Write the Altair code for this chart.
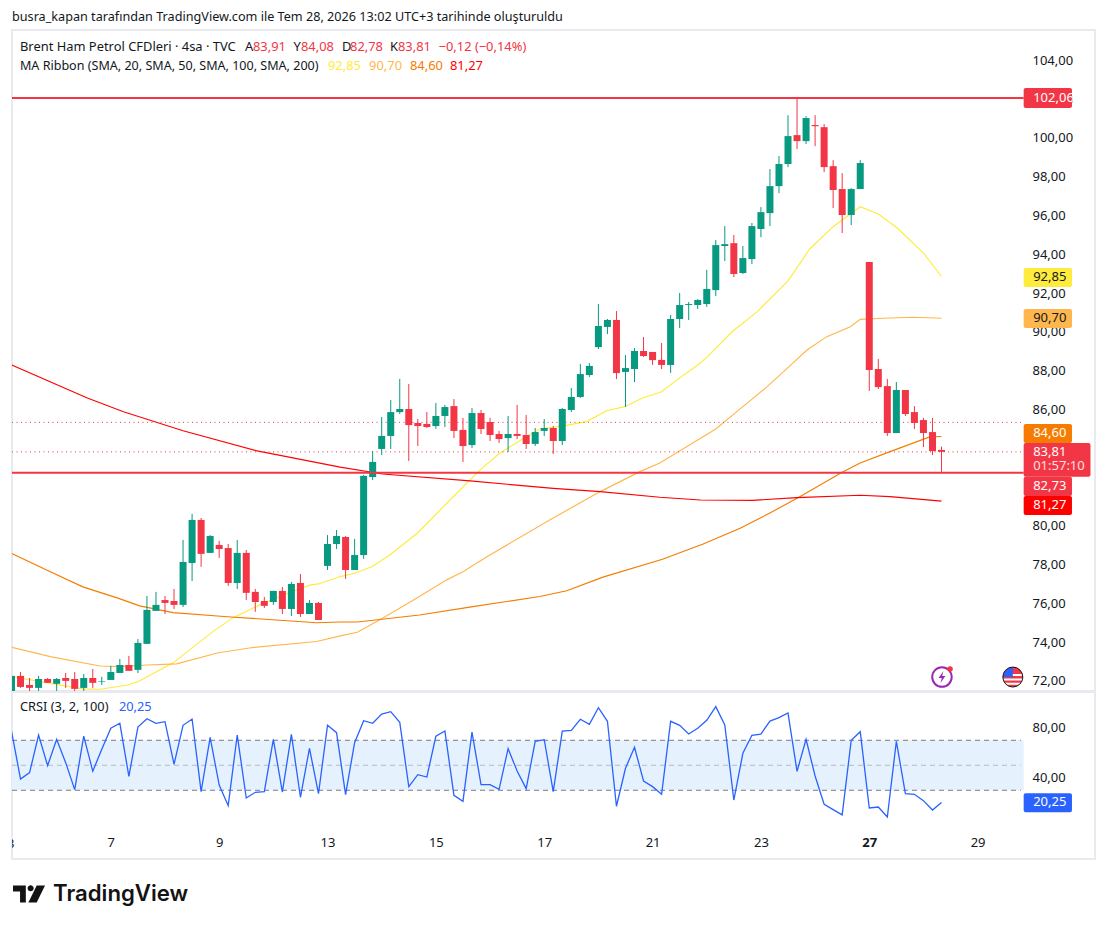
import altair as alt
import pandas as pd

FONT = "Noto Sans"
GREEN, RED = "#089981", "#f23645"
INK = "#131722"

opens = [71.40,72.26,71.79,71.64,72.10,71.85,72.15,72.10,71.64,72.15,71.95,72.05,72.41,72.82,72.57,73.91,75.61,76.17,76.12,75.92,
 78.08,80.30,78.60,79.01,78.85,77.05,78.60,76.59,76.12,76.07,76.64,75.71,77.05,75.45,76.02,77.93,79.06,79.42,77.72,78.49,
 82.51,83.96,84.63,85.86,86.02,85.30,85.25,85.14,85.66,86.17,84.94,84.16,85.81,85.35,84.73,84.52,84.73,84.68,84.22,84.89,
 85.04,84.37,85.97,86.64,87.77,89.21,90.25,90.61,87.93,88.08,89.01,88.96,88.55,88.29,90.66,91.38,91.38,91.43,92.15,94.42,
 94.57,93.03,93.75,95.30,96.12,97.51,98.65,100.14,99.83,100.66,100.55,98.54,97.36,96.02,97.36,93.60,88.08,87.20,84.78,87.00,
 85.86,85.45,84.83,83.91]
closes = [72.26,71.69,71.64,72.10,71.90,72.10,72.00,71.59,72.15,71.90,71.98,72.46,72.82,72.52,73.96,75.66,75.92,76.02,75.92,78.13,
 80.30,78.55,79.47,78.80,77.05,78.60,76.54,76.07,75.87,76.64,75.71,77.00,75.45,76.02,75.14,79.06,79.47,77.72,78.49,82.57,
 83.29,84.63,85.86,86.02,85.19,85.14,85.09,85.66,86.12,84.89,84.11,85.81,84.99,84.68,84.47,84.73,84.63,84.22,84.83,85.04,
 84.37,86.02,86.64,87.82,88.24,90.30,90.61,87.87,88.13,89.01,88.75,88.54,88.29,90.66,91.38,91.43,91.64,92.21,94.47,94.52,
 92.98,93.80,95.45,96.17,97.51,98.65,100.09,99.83,101.02,100.60,98.49,97.31,96.02,97.36,98.70,88.03,87.15,84.78,87.00,85.76,
 85.30,84.78,83.85,83.81]
highs = [72.36,72.46,72.15,72.26,72.15,72.15,72.41,72.46,72.36,72.62,72.21,72.77,73.13,73.29,74.16,76.38,76.59,76.38,76.74,79.27,
 80.61,80.40,79.52,79.22,79.06,79.27,78.75,76.74,76.33,76.64,76.84,77.10,77.51,76.17,76.07,79.52,79.78,79.47,79.32,82.62,
 83.85,85.61,86.48,87.57,87.31,85.50,85.86,86.33,86.23,86.53,85.56,86.07,85.97,85.56,84.89,85.66,86.23,85.71,85.04,85.50,
 85.14,86.07,87.10,88.34,88.39,91.43,90.66,91.07,88.80,89.16,89.73,88.96,89.42,90.87,92.00,91.54,91.69,93.19,94.73,95.45,
 94.99,94.42,95.61,96.43,98.39,99.06,101.17,102.05,101.12,101.17,100.71,98.85,98.18,97.41,98.85,93.60,88.60,87.57,87.41,87.00,
 86.17,85.56,85.56,84.08]
lows = [71.28,71.64,71.48,71.48,71.90,71.48,71.64,71.48,71.48,71.64,71.79,72.05,72.41,72.52,72.41,73.91,75.61,75.45,75.71,75.81,
 77.15,77.88,78.60,78.34,76.90,76.74,76.17,75.56,75.76,75.92,75.45,75.35,75.30,75.45,75.14,77.72,78.80,77.26,77.72,78.29,
 82.36,83.65,83.96,85.76,83.34,84.11,85.04,84.99,85.09,84.52,83.29,84.01,84.73,84.37,84.27,83.80,84.47,83.96,84.11,84.63,
 83.70,84.16,85.86,86.59,87.67,89.11,89.88,87.56,86.12,87.41,88.70,88.29,88.08,87.88,90.20,90.61,91.18,91.28,91.84,93.65,
 92.82,92.98,93.49,94.88,95.45,97.15,98.49,99.42,99.68,99.57,98.23,96.38,95.09,95.50,97.36,86.95,87.05,84.63,84.78,85.66,
 84.99,84.06,83.65,82.78]

sma20_i = [0.2,7.9,9.8,12.9,14,17.9,22.3,24.5,27.5,30.1,33.1,34,36.4,38,39.9,41.9,45,48.2,51.9,54.1,56.6,58.5,61.3,63.7,65.9,67.9,69.9,72,73.7,76,77.1,79.8,82.6,86,88.4,91,94,96,98.1,101,103]
sma20_v = [72.21,71.59,71.57,71.79,71.96,72.93,74.54,75.25,75.92,76.43,76.95,77.0,77.38,77.55,77.89,78.49,79.64,81.16,82.88,83.75,84.47,84.99,85.16,85.37,85.93,86.14,86.59,86.91,87.52,88.29,88.72,90.0,91.04,92.63,94.27,95.42,96.45,96.07,95.35,94.06,92.85]
sma50_i = [0,4.3,9.8,12,15,18.3,22.8,26.7,33.8,36.4,38.3,41,44.9,48.2,50,52.7,59.6,65.2,69.6,71.8,78,81,83.7,86.2,88.1,90.3,92.9,94,96.5,99.8,103]
sma50_v = [73.74,73.25,72.77,72.74,72.82,72.88,73.44,73.72,74.03,74.32,74.51,75.2,76.28,77.21,77.63,78.41,80.3,81.76,82.79,83.24,84.99,86.14,87.17,88.24,89.06,89.75,90.26,90.64,90.70,90.75,90.70]
sma100_i = [0,4.3,7.9,11.7,14.2,17.9,23.9,33.8,36.4,38.3,45.2,51.1,58.5,61.5,65.5,72.1,76.6,80.7,84.3,87.3,92.1,94,97.3,101.7,103]
sma100_v = [78.58,77.63,76.85,76.28,75.87,75.52,75.31,75.0,75.04,75.04,75.40,75.83,76.35,76.65,77.35,78.27,79.06,79.87,80.73,81.5,82.79,83.24,83.82,84.58,84.60]
sma200_i = [0,8.4,12.4,19,27.2,36.4,41.1,50.8,60,65.2,71.8,76.3,82.1,87,94,97.3,103]
sma200_v = [88.29,86.59,85.88,84.90,83.86,83.02,82.67,82.31,81.93,81.76,81.47,81.33,81.31,81.45,81.57,81.50,81.27]

crsi = [77.4,39.0,44.1,74.2,49.7,70.8,52.1,30.5,73.4,45.2,62.8,79.6,83.6,41.2,80.6,87.3,83.6,84.9,50.8,82.0,87.0,28.9,72.4,34.2,17.7,74.2,23.8,28.4,28.9,70.8,
 28.6,74.8,24.4,63.6,27.3,82.0,76.1,26.5,68.1,85.7,83.6,91.0,92.9,84.4,32.9,42.5,40.6,73.2,77.4,26.0,21.2,76.6,34.5,34.5,30.8,63.3,45.4,31.3,69.2,70.5,
 28.9,77.4,78.0,86.8,82.8,96.1,85.2,17.2,47.6,64.4,37.4,32.9,26.8,85.2,82.0,75.0,79.6,86.0,96.9,82.2,22.2,59.6,74.0,75.0,85.4,88.1,91.8,45.2,70.8,41.4,
 18.8,14.5,10.3,70.0,76.9,15.8,16.6,8.6,69.2,27.3,26.8,21.7,14.2,20.25]

price_ticks = [72,74,76,78,80,82,84,86,88,90,92,94,96,98,100,102,104]
crsi_ticks = [40,80]
date_pos = [11,23,35,47,59,71,83,95,107]
date_names = ["7","9","13","15","17","21","23","27","29"]

# (value text, fill, text colour, lower price, upper price, price of the text)
badges = [("102,06",RED,"#ffffff",101.54,102.57,102.05),
          ("92,85","#ffeb3b",INK,92.31,93.29,92.84),
          ("90,70","#ffb74d",INK,90.20,91.18,90.70),
          ("84,60","#f57c00","#ffffff",84.27,85.25,84.80),
          ("83,81",RED,"#ffffff",82.52,84.27,83.82),
          ("82,73",RED,"#ffffff",81.54,82.52,82.06),
          ("81,27","#ff0000","#ffffff",80.56,81.54,81.07)]

XS = alt.Scale(domain=[0.055, 120.0], nice=False, zero=False, padding=0)
YS = alt.Scale(domain=[71.48, 105.56], nice=False, zero=False, padding=0)
CS = alt.Scale(domain=[-25.0, 108.64], nice=False, zero=False, padding=0)
NUM = "replace(format(datum.value,'.2f'),'.',',')"

X = alt.X("x:Q", scale=XS, axis=None)
Y = alt.Y("y:Q", scale=YS)

bars = pd.DataFrame({"x": range(len(opens)), "o": opens, "c": closes, "h": highs, "l": lows})
bars["top"] = bars[["o", "c"]].max(axis=1)
bars["bot"] = bars[["o", "c"]].min(axis=1)
bars["col"] = [GREEN if c >= o else RED for o, c in zip(opens, closes)]

def ma(idx, val, color):
    df = pd.DataFrame({"x": idx, "y": val})
    return alt.Chart(df).mark_line(color=color, strokeWidth=1.15, clip=True).encode(x=X, y=Y)

axis_layer = alt.Chart(pd.DataFrame({"x": [0.1], "y": [80]})).mark_point(opacity=0).encode(
    x=X,
    y=alt.Y("y:Q", scale=YS, axis=alt.Axis(orient="right", values=price_ticks, title=None, grid=False,
        domain=False, ticks=False, offset=-63, labelPadding=0, labelFont=FONT, labelFontSize=13,
        labelColor=INK, labelExpr=NUM, labelOverlap=False, labelBound=False)))

wicks = alt.Chart(bars).mark_rule(strokeWidth=1, clip=True).encode(
    x=X, y=alt.Y("h:Q", scale=YS), y2=alt.Y2("l"), color=alt.Color("col:N", scale=None))
bodies = alt.Chart(bars).mark_bar(size=7, orient="vertical", clip=True).encode(
    x=X, y=alt.Y("top:Q", scale=YS), y2=alt.Y2("bot"), color=alt.Color("col:N", scale=None))

hl = pd.DataFrame({"y": [102.06, 82.73], "x": [0.055, 0.055], "x1": [112.1, 112.1]})
hlines = alt.Chart(hl).mark_rule(color=RED, strokeWidth=2, clip=True).encode(x=X, x2=alt.X2("x1"), y=Y)
dl = pd.DataFrame({"y": [85.33, 83.81], "x": [0.055, 0.055], "x1": [111.8, 111.8]})
dots = alt.Chart(dl).mark_rule(color=RED, strokeWidth=1, strokeDash=[1, 3.5], clip=True).encode(x=X, x2=alt.X2("x1"), y=Y)

bd = pd.DataFrame(badges, columns=["t", "fill", "ink", "y0", "y1", "ty"])
bd["x"], bd["x1"], bd["tx"] = 112.1, 117.45, 113.15
bd.loc[bd.t == "83,81", "x1"] = 119.5
badge_rect = alt.Chart(bd).mark_rect(cornerRadius=2).encode(
    x=X, x2=alt.X2("x1"), y=alt.Y("y0:Q", scale=YS), y2=alt.Y2("y1"), color=alt.Color("fill:N", scale=None))
badge_text = alt.Chart(bd).mark_text(font=FONT, fontSize=13, align="left", baseline="middle").encode(
    x=alt.X("tx:Q", scale=XS, axis=None), y=alt.Y("ty:Q", scale=YS), text="t:N", color=alt.Color("ink:N", scale=None))
timer = alt.Chart(pd.DataFrame({"x": [113.15], "y": [83.08], "t": ["01:57:10"]})).mark_text(
    font=FONT, fontSize=13, align="left", baseline="middle", color="#ffffff", opacity=0.85).encode(x=X, y=Y, text="t:N")

L1, L2 = 104.68, 103.70
head = pd.DataFrame([
    (0.055, 106.23, "busra_kapan tarafından TradingView.com ile Tem 28, 2026 13:02 UTC+3 tarihinde oluşturuldu", INK, 12.65),
    (0.94, L1, "Brent Ham Petrol CFDleri · 4sa · TVC", INK, 12.9),
    (25.86, L1, "A", INK, 12.9), (26.74, L1, "83,91", RED, 12.9),
    (31.24, L1, "Y", INK, 12.9), (32.06, L1, "84,08", RED, 12.9),
    (36.6, L1, "D", INK, 12.9), (37.49, L1, "82,78", RED, 12.9),
    (41.92, L1, "K", INK, 12.9), (42.8, L1, "83,81", RED, 12.9),
    (47.3, L1, "−0,12 (−0,14%)", RED, 12.9),
    (0.94, L2, "MA Ribbon (SMA, 20, SMA, 50, SMA, 100, SMA, 200)", INK, 12.55),
    (35.05, L2, "92,85", "#ffeb3b", 12.9), (39.6, L2, "90,70", "#ffb74d", 12.9),
    (44.13, L2, "84,60", "#f57c00", 12.9), (48.56, L2, "81,27", "#ff0000", 12.9),
], columns=["x", "y", "t", "col", "fs"])
head_text = alt.Chart(head).mark_text(font=FONT, align="left", baseline="middle").encode(
    x=X, y=Y, text="t:N", color=alt.Color("col:N", scale=None), size=alt.Size("fs:Q", scale=None))

BOLT = "M0.15,-0.6 L-0.35,0.1 H-0.02 L-0.15,0.6 L0.35,-0.1 H0.02 Z"
ic1 = pd.DataFrame({"x": [103.05], "y": [72.2]})
ring = alt.Chart(ic1).mark_point(shape="circle", size=380, filled=False, color="#9c27b0", strokeWidth=2, opacity=1).encode(x=X, y=Y)
bolt = alt.Chart(ic1).mark_point(shape=BOLT, size=380, filled=True, color="#9c27b0", opacity=1).encode(x=X, y=Y)
dot = alt.Chart(pd.DataFrame({"x": [103.95], "y": [72.62]})).mark_point(shape="circle", size=30, filled=True, color=RED, opacity=1).encode(x=X, y=Y)
ic2 = pd.DataFrame({"x": [110.9], "y": [72.2]})
flag0 = alt.Chart(ic2).mark_point(shape="circle", size=400, filled=True, color=RED, opacity=1).encode(x=X, y=Y)
flag1 = alt.Chart(ic2).mark_point(shape="M-0.9,-0.3H0.9V-0.1H-0.9Z M-1,0.15H1V0.35H-1Z M-0.85,0.58H0.85V0.76H-0.85Z", size=400, filled=True, color="#ffffff", opacity=1).encode(x=X, y=Y)
flag2 = alt.Chart(ic2).mark_point(shape="M-0.9,-0.4 L-0.4,-0.9 L0,-1 L0,0 L-1,0 Z", size=400, filled=True, color="#2962ff", opacity=1).encode(x=X, y=Y)
flag3 = alt.Chart(ic2).mark_point(shape="circle", size=400, filled=False, color=INK, strokeWidth=1, opacity=1).encode(x=X, y=Y)

top = alt.layer(axis_layer,
    ma(sma20_i, sma20_v, "#ffeb3b"), ma(sma50_i, sma50_v, "#ffb74d"),
    ma(sma100_i, sma100_v, "#f57c00"), ma(sma200_i, sma200_v, "#ff0000"),
    dots, wicks, bodies, hlines, flag0, flag1, flag2, flag3, ring, bolt, dot,
    badge_rect, badge_text, timer, head_text).properties(width=1083, height=661)

# lower pane
XB = alt.X("x:Q", scale=XS)
CY = alt.Y("y:Q", scale=CS)
date_expr = "{" + ",".join(f"'{p}':'{n}'" for p, n in zip(date_pos, date_names)) + "}[datum.value]"
c_axes = alt.Chart(pd.DataFrame({"x": [0.1], "y": [50]})).mark_point(opacity=0).encode(
    x=alt.X("x:Q", scale=XS, axis=alt.Axis(orient="bottom", values=date_pos, title=None, grid=False, domain=False,
        ticks=False, offset=-29, labelPadding=6, labelFont=FONT, labelFontSize=13, labelColor=INK,
        labelExpr=date_expr, labelOverlap=False, labelBound=False, labelFlush=False,
        labelFontWeight={"expr": "datum.value == 95 ? 'bold' : 'normal'"})),
    y=alt.Y("y:Q", scale=CS, axis=alt.Axis(orient="right", values=crsi_ticks, title=None, grid=False, domain=False,
        ticks=False, offset=-63, labelPadding=0, labelFont=FONT, labelFontSize=13, labelColor=INK,
        labelExpr=NUM, labelOverlap=False, labelBound=False)))
band = alt.Chart(pd.DataFrame({"x": [0.055], "x1": [112.1], "y": [30], "y1": [70]})).mark_rect(color="#e5f2fd").encode(
    x=XB, x2=alt.X2("x1"), y=CY, y2=alt.Y2("y1"))
lv = pd.DataFrame({"y": [70, 30], "x": [0.055] * 2, "x1": [111.8] * 2})
lines = alt.Chart(lv).mark_rule(color="#787b86", strokeWidth=1, strokeDash=[5, 4]).encode(x=XB, x2=alt.X2("x1"), y=CY)
mid = alt.Chart(pd.DataFrame({"y": [50], "x": [0.055], "x1": [111.8]})).mark_rule(color="#b8bac1", strokeWidth=1, strokeDash=[5, 4]).encode(x=XB, x2=alt.X2("x1"), y=CY)
cr = alt.Chart(pd.DataFrame({"x": range(len(crsi)), "y": crsi})).mark_line(color="#2962ff", strokeWidth=1.3, clip=True).encode(x=XB, y=CY)
cb = pd.DataFrame({"x": [112.1], "x1": [117.45], "y": [12.4], "y1": [27.6]})
cb_rect = alt.Chart(cb).mark_rect(color="#2962ff", cornerRadius=2).encode(x=XB, x2=alt.X2("x1"), y=CY, y2=alt.Y2("y1"))
cb_text = alt.Chart(pd.DataFrame({"x": [113.15], "y": [20.25], "t": ["20,25"]})).mark_text(font=FONT, fontSize=13, align="left", baseline="middle", color="#ffffff").encode(x=XB, y=CY, text="t:N")
cl = pd.DataFrame({"x": [0.94, 11.9], "y": [96.5, 96.5], "t": ["CRSI (3, 2, 100)", "20,25"], "col": [INK, "#2962ff"]})
c_lab = alt.Chart(cl).mark_text(font=FONT, fontSize=12.8, align="left", baseline="middle").encode(
    x=XB, y=CY, text="t:N", color=alt.Color("col:N", scale=None))
first_date = alt.Chart(pd.DataFrame({"x": [-0.1], "y": [-12.96], "t": ["3"]})).mark_text(
    font=FONT, fontSize=13, align="center", baseline="middle", color=INK, clip=True).encode(x=XB, y=CY, text="t:N")
brand = alt.Chart(pd.DataFrame({"x": [4.6], "y": [-53.0], "t": ["TradingView"]})).mark_text(
    font="Inter", fontSize=22.2, fontWeight=600, align="left", baseline="middle", color="#131313").encode(x=XB, y=CY, text="t:N")
LOGO = ("M-1,-0.53 H-0.2 V0.53 H-0.56 V-0.16 H-1 Z "
        "M-0.09,-0.36 A0.19,0.19 0 1 0 0.29,-0.36 A0.19,0.19 0 1 0 -0.09,-0.36 Z "
        "M0.48,-0.53 H1 L0.48,0.53 H-0.04 Z")
logo = alt.Chart(pd.DataFrame({"x": [1.94], "y": [-53.0]})).mark_point(shape=LOGO, size=1024, filled=True, color="#131313", opacity=1).encode(x=XB, y=CY)

bottom = alt.layer(c_axes, band, mid, lines, cr, cb_rect, cb_text, c_lab, first_date, brand, logo).properties(width=1083, height=167)

chart = alt.vconcat(top, bottom, spacing=-3).properties(
    padding={"left": 0, "top": 2, "right": 0, "bottom": 0}, background="#ffffff"
).configure_view(stroke="#e8eaf0", strokeWidth=2)

chart.save("out.html", embed_options={"renderer": "svg", "actions": False})
